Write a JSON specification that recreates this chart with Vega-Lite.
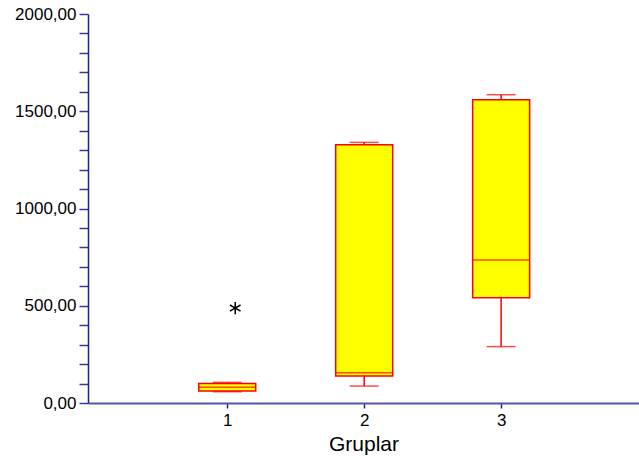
{
  "$schema": "https://vega.github.io/schema/vega-lite/v6.json",
  "width": 551,
  "height": 389,
  "autosize": {"type": "none"},
  "padding": {"left": 88, "top": 14, "right": 0, "bottom": 68},
  "background": "white",
  "config": {
    "view": {"stroke": null},
    "font": "Liberation Sans",
    "axis": {"grid": false, "labelFont": "Liberation Sans", "titleFont": "Liberation Sans", "labelColor": "#000000", "titleColor": "#000000", "titleFontWeight": "normal"}
  },
  "datasets": {
    "boxes": [
      {"group": 1, "lower": 58, "q1": 62, "median": 81, "q3": 100, "upper": 106},
      {"group": 2, "lower": 87, "q1": 139, "median": 156, "q3": 1328, "upper": 1340},
      {"group": 3, "lower": 290, "q1": 541, "median": 735, "q3": 1559, "upper": 1585}
    ],
    "outliers": [
      {"group": 1, "value": 488}
    ]
  },
  "layer": [
    {
      "data": {"name": "boxes"},
      "mark": {"type": "rule", "color": "#ff0000", "strokeWidth": 1.5},
      "encoding": {
        "x": {"field": "group", "type": "quantitative", "scale": {"domain": [0.02, 3.97], "nice": false, "zero": false},
          "axis": {"values": [1, 2, 3], "format": "d", "title": "Gruplar", "labelFontSize": 17, "titleFontSize": 21, "domainColor": "#5555aa", "tickColor": "#22228f", "tickSize": 5, "tickWidth": 1.5, "labelPadding": 4, "titlePadding": 5, "domainWidth": 2}},
        "y": {"field": "lower", "type": "quantitative", "scale": {"domain": [0, 2000], "nice": false},
          "axis": {"values": [0,100,200,300,400,500,600,700,800,900,1000,1100,1200,1300,1400,1500,1600,1700,1800,1900,2000],
            "tickCount": 40,
            "labelOverlap": false,
            "labelExpr": "datum.value % 500 === 0 ? replace(format(datum.value, '.2f'), '.', ',') : ''",
            "title": null, "labelFontSize": 17, "domainColor": "#22228f", "tickColor": "#3a3a9f", "tickSize": 9, "labelPadding": 3, "domainWidth": 1.5, "tickWidth": 1.5}},
        "y2": {"field": "upper"}
      }
    },
    {
      "data": {"name": "boxes"},
      "mark": {"type": "tick", "orient": "horizontal", "color": "#ff0000", "size": 29, "thickness": 1.5},
      "encoding": {
        "x": {"field": "group", "type": "quantitative"},
        "y": {"field": "lower", "type": "quantitative"}
      }
    },
    {
      "data": {"name": "boxes"},
      "mark": {"type": "tick", "orient": "horizontal", "color": "#ff0000", "size": 29, "thickness": 1.5},
      "encoding": {
        "x": {"field": "group", "type": "quantitative"},
        "y": {"field": "upper", "type": "quantitative"}
      }
    },
    {
      "data": {"name": "boxes"},
      "mark": {"type": "bar", "size": 57, "fill": "#ffff00", "stroke": "#ff0000", "strokeWidth": 1.5, "orient": "vertical"},
      "encoding": {
        "x": {"field": "group", "type": "quantitative"},
        "y": {"field": "q1", "type": "quantitative"},
        "y2": {"field": "q3"}
      }
    },
    {
      "data": {"name": "boxes"},
      "mark": {"type": "tick", "orient": "horizontal", "color": "#ff0000", "size": 57, "thickness": 1.5},
      "encoding": {
        "x": {"field": "group", "type": "quantitative"},
        "y": {"field": "median", "type": "quantitative"}
      }
    },
    {
      "data": {"name": "outliers"},
      "mark": {"type": "point", "shape": "M0,-1L0,1M-0.87,-0.5L0.87,0.5M-0.87,0.5L0.87,-0.5", "size": 150, "stroke": "#000000", "strokeWidth": 1.5, "filled": false, "opacity": 1, "xOffset": 8},
      "encoding": {
        "x": {"field": "group", "type": "quantitative"},
        "y": {"field": "value", "type": "quantitative"}
      }
    }
  ]
}
